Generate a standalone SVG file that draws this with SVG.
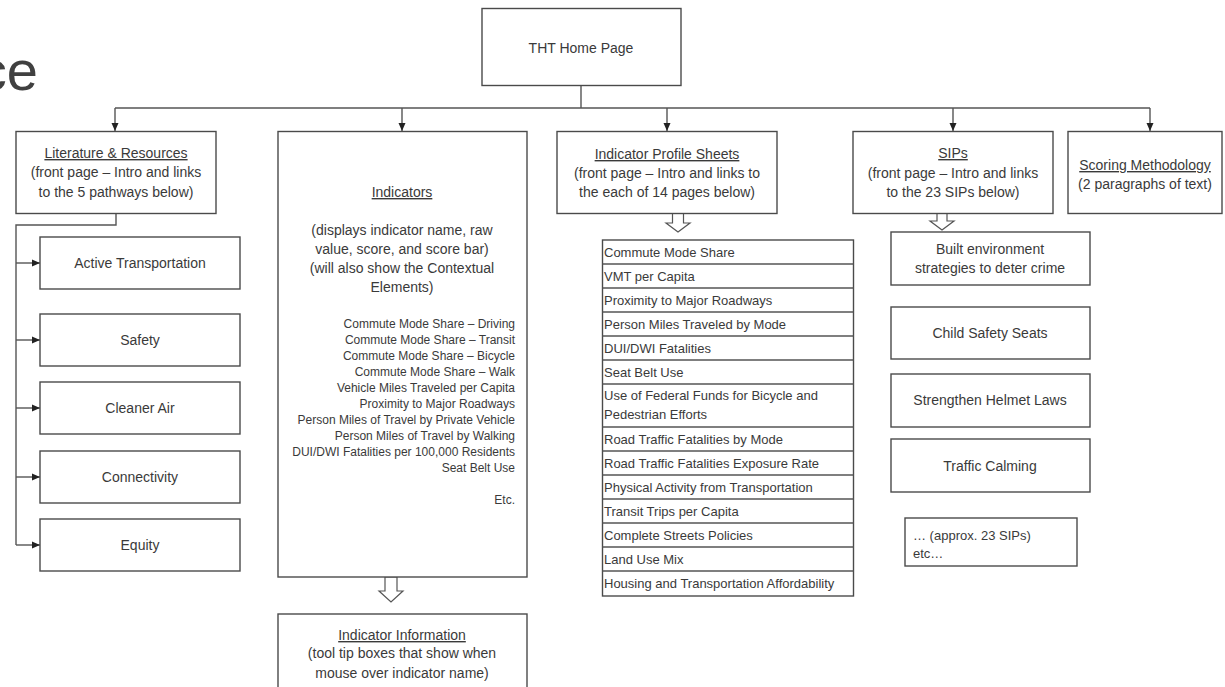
<svg xmlns="http://www.w3.org/2000/svg" width="1225" height="687" viewBox="0 0 1225 687">
<style>
  .box{fill:#fff;stroke:#4a4a4a;stroke-width:1.4}
  .t{font-family:"Liberation Sans",Arial,sans-serif;fill:#3a3a3a;font-size:14px;text-anchor:middle}
  .s{font-size:12px;text-anchor:end}
  .l{font-size:13px;text-anchor:start}
  .u{text-decoration:underline}
  .c{fill:none;stroke:#555;stroke-width:1.4}
  .h{fill:#fff;stroke:#555;stroke-width:1.2}
</style>
<defs>
  <marker id="ah" markerUnits="userSpaceOnUse" markerWidth="8" markerHeight="8" refX="8" refY="4" orient="auto">
    <path d="M0,0.5 L8,4 L0,7.5 z" fill="#222"/>
  </marker>
</defs>
<rect width="1225" height="687" fill="#fff"/>
<text x="38" y="90" font-family="Liberation Sans,Arial,sans-serif" font-size="56" fill="#404040" text-anchor="end">ce</text>

<g id="connectors">
  <path class="c" d="M581 86 V108"/>
  <path class="c" d="M115 108 H1150"/>
  <path class="c" d="M115 108 V131" marker-end="url(#ah)"/>
  <path class="c" d="M402 108 V131" marker-end="url(#ah)"/>
  <path class="c" d="M667 108 V131" marker-end="url(#ah)"/>
  <path class="c" d="M953 108 V131" marker-end="url(#ah)"/>
  <path class="c" d="M1150 108 V131" marker-end="url(#ah)"/>
  <path class="c" d="M116 213 V225 H16 V545"/>
  <path class="c" d="M16 263 H40" marker-end="url(#ah)"/>
  <path class="c" d="M16 340 H40" marker-end="url(#ah)"/>
  <path class="c" d="M16 408 H40" marker-end="url(#ah)"/>
  <path class="c" d="M16 477 H40" marker-end="url(#ah)"/>
  <path class="c" d="M16 545 H40" marker-end="url(#ah)"/>
  <path class="h" d="M385 577 V591 H379 L391 602 L403 591 H397 V577 Z"/>
  <path class="h" d="M672.5 213 V223 H666 L678 232 L690 223 H683.5 V213 Z"/>
  <path class="h" d="M937 213 V221 H930 L942 230 L954 221 H947 V213 Z"/>
</g>

<g id="home">
  <rect class="box" x="482" y="8.5" width="199" height="77"/>
  <text class="t" x="581" y="53" font-size="13.5">THT Home Page</text>
</g>

<g id="literature">
  <rect class="box" x="16" y="131.5" width="200" height="82"/>
  <text class="t u" x="116" y="158">Literature &amp; Resources</text>
  <text class="t" x="116" y="177">(front page – Intro and links</text>
  <text class="t" x="116" y="197">to the 5 pathways below)</text>
</g>
<g id="active-transportation">
  <rect class="box" x="40" y="237" width="200" height="52"/>
  <text class="t" x="140" y="268">Active Transportation</text>
</g>
<g id="safety">
  <rect class="box" x="40" y="314" width="200" height="52"/>
  <text class="t" x="140" y="345">Safety</text>
</g>
<g id="cleaner-air">
  <rect class="box" x="40" y="382" width="200" height="52"/>
  <text class="t" x="140" y="413">Cleaner Air</text>
</g>
<g id="connectivity">
  <rect class="box" x="40" y="451" width="200" height="52"/>
  <text class="t" x="140" y="482">Connectivity</text>
</g>
<g id="equity">
  <rect class="box" x="40" y="519" width="200" height="52"/>
  <text class="t" x="140" y="550">Equity</text>
</g>

<g id="indicators">
  <rect class="box" x="278" y="131.5" width="249" height="445.5"/>
  <text class="t u" x="402" y="197" font-size="14.5">Indicators</text>
  <text class="t" x="402" y="235" font-size="14.5">(displays indicator name, raw</text>
  <text class="t" x="402" y="254" font-size="14.5">value, score, and score bar)</text>
  <text class="t" x="402" y="273" font-size="14.5">(will also show the Contextual</text>
  <text class="t" x="402" y="292" font-size="14.5">Elements)</text>
  <text class="t s" x="515" y="327.5">Commute Mode Share – Driving</text>
  <text class="t s" x="515" y="343.5">Commute Mode Share – Transit</text>
  <text class="t s" x="515" y="359.5">Commute Mode Share – Bicycle</text>
  <text class="t s" x="515" y="375.5">Commute Mode Share – Walk</text>
  <text class="t s" x="515" y="391.5">Vehicle Miles Traveled per Capita</text>
  <text class="t s" x="515" y="407.5">Proximity to Major Roadways</text>
  <text class="t s" x="515" y="423.5">Person Miles of Travel by Private Vehicle</text>
  <text class="t s" x="515" y="439.5">Person Miles of Travel by Walking</text>
  <text class="t s" x="515" y="455.5">DUI/DWI Fatalities per 100,000 Residents</text>
  <text class="t s" x="515" y="471.5">Seat Belt Use</text>
  <text class="t s" x="515" y="503.5">Etc.</text>
</g>

<g id="indicator-information">
  <rect class="box" x="278" y="614" width="249" height="90"/>
  <text class="t u" x="402" y="640">Indicator Information</text>
  <text class="t" x="402" y="658">(tool tip boxes that show when</text>
  <text class="t" x="402" y="678">mouse over indicator name)</text>
</g>

<g id="profile-sheets">
  <rect class="box" x="557" y="131.5" width="220" height="82"/>
  <text class="t u" x="667" y="159">Indicator Profile Sheets</text>
  <text class="t" x="667" y="178">(front page – Intro and links to</text>
  <text class="t" x="667" y="197">the each of 14 pages below)</text>
</g>

<g id="profile-list">
  <rect class="box" x="602.5" y="240" width="251" height="356"/>
  <path class="c" d="M602.5 264 H853.5 M602.5 288 H853.5 M602.5 312 H853.5 M602.5 336 H853.5 M602.5 360 H853.5 M602.5 384 H853.5 M602.5 427 H853.5 M602.5 451 H853.5 M602.5 475 H853.5 M602.5 499 H853.5 M602.5 523 H853.5 M602.5 547 H853.5 M602.5 571 H853.5"/>
  <text class="t l" x="604" y="256.5">Commute Mode Share</text>
  <text class="t l" x="604" y="280.5">VMT per Capita</text>
  <text class="t l" x="604" y="304.5">Proximity to Major Roadways</text>
  <text class="t l" x="604" y="328.5">Person Miles Traveled by Mode</text>
  <text class="t l" x="604" y="352.5">DUI/DWI Fatalities</text>
  <text class="t l" x="604" y="376.5">Seat Belt Use</text>
  <text class="t l" x="604" y="399.5">Use of Federal Funds for Bicycle and</text>
  <text class="t l" x="604" y="418.5">Pedestrian Efforts</text>
  <text class="t l" x="604" y="443.5">Road Traffic Fatalities by Mode</text>
  <text class="t l" x="604" y="467.5">Road Traffic Fatalities Exposure Rate</text>
  <text class="t l" x="604" y="491.5">Physical Activity from Transportation</text>
  <text class="t l" x="604" y="515.5">Transit Trips per Capita</text>
  <text class="t l" x="604" y="539.5">Complete Streets Policies</text>
  <text class="t l" x="604" y="563.5">Land Use Mix</text>
  <text class="t l" x="604" y="587.5">Housing and Transportation Affordability</text>
</g>

<g id="sips">
  <rect class="box" x="853" y="131.5" width="200" height="82"/>
  <text class="t u" x="953" y="158">SIPs</text>
  <text class="t" x="953" y="178">(front page – Intro and links</text>
  <text class="t" x="953" y="197">to the 23 SIPs below)</text>
</g>

<g id="scoring">
  <rect class="box" x="1068" y="131.5" width="154" height="82"/>
  <text class="t u" x="1145" y="170">Scoring Methodology</text>
  <text class="t" x="1145" y="189">(2 paragraphs of text)</text>
</g>

<g id="built-environment">
  <rect class="box" x="891" y="232" width="199" height="53"/>
  <text class="t" x="990" y="254">Built environment</text>
  <text class="t" x="990" y="273">strategies to deter crime</text>
</g>
<g id="child-safety-seats">
  <rect class="box" x="891" y="307" width="199" height="52"/>
  <text class="t" x="990" y="338">Child Safety Seats</text>
</g>
<g id="helmet-laws">
  <rect class="box" x="891" y="374" width="199" height="53"/>
  <text class="t" x="990" y="405">Strengthen Helmet Laws</text>
</g>
<g id="traffic-calming">
  <rect class="box" x="891" y="439" width="199" height="53"/>
  <text class="t" x="990" y="471">Traffic Calming</text>
</g>
<g id="more-sips">
  <rect class="box" x="905" y="518" width="172" height="48"/>
  <text class="t l" x="913" y="540" font-size="14">…  (approx. 23 SIPs)</text>
  <text class="t l" x="913" y="558" font-size="14">etc…</text>
</g>
</svg>
